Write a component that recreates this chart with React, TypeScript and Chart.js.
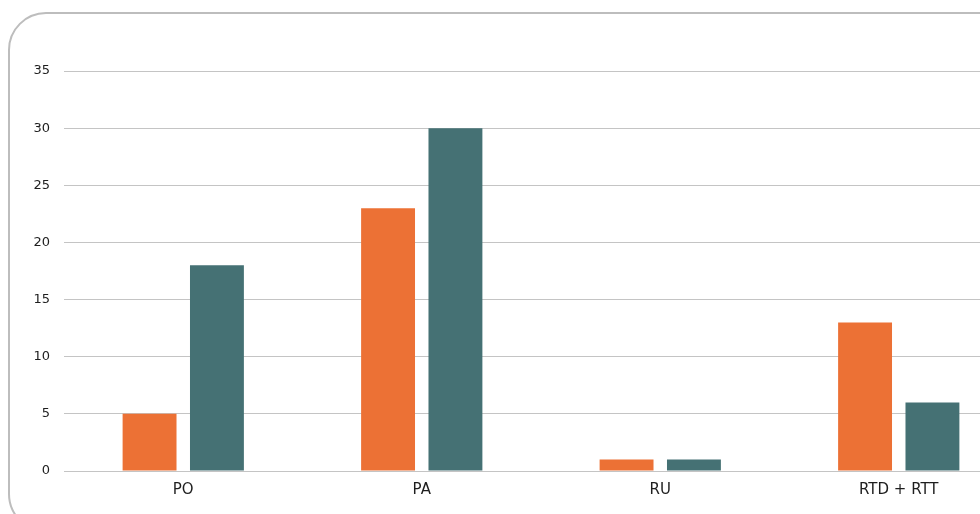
import React, { useEffect, useRef } from "react";
import { Chart, registerables } from "chart.js";

Chart.register(...registerables);

const categories = ["PO", "PA", "RU", "RTD + RTT"];
const seriesOrange = [5, 23, 1, 13];
const seriesTeal = [18, 30, 1, 6];
const yMax = 35;
const yStep = 5;

export default function App() {
  const ref = useRef<HTMLCanvasElement | null>(null);

  useEffect(() => {
    document.body.style.overflow = "hidden";
    const ctx = ref.current!.getContext("2d")!;
    const chart = new Chart(ctx, {
      type: "bar",
      data: {
        labels: categories,
        datasets: [
          {
            label: "A",
            data: seriesOrange,
            backgroundColor: "#EC7135",
            borderWidth: 0,
            barPercentage: 0.8,
            categoryPercentage: 0.565,
          },
          {
            label: "B",
            data: seriesTeal,
            backgroundColor: "#457174",
            borderWidth: 0,
            barPercentage: 0.8,
            categoryPercentage: 0.565,
          },
        ],
      },
      options: {
        animation: false,
        responsive: false,
        maintainAspectRatio: false,
        layout: { padding: { top: 57, right: 10, left: 0, bottom: 0 } },
        plugins: { legend: { display: false }, title: { display: false }, tooltip: { enabled: false } },
        scales: {
          x: {
            grid: { display: false, drawTicks: false },
            border: { display: true, color: "#c4c4c4", width: 1 },
            ticks: {
              color: "#1e1e1e",
              font: { family: "'DejaVu Sans', sans-serif", size: 15 },
              padding: 10,
            },
            afterFit: (scale: any) => {
              scale.height = 38;
            },
          },
          y: {
            min: 0,
            max: yMax,
            ticks: {
              stepSize: yStep,
              color: "#1e1e1e",
              font: { family: "'DejaVu Sans', sans-serif", size: 13 },
              padding: 14,
            },
            grid: { color: "#c4c4c4", drawTicks: false, lineWidth: 1 },
            border: { display: false },
            afterFit: (scale: any) => {
              scale.width = 54;
            },
          },
        },
      },
    });
    return () => chart.destroy();
  }, []);

  return (
    <div
      style={{
        position: "fixed",
        left: 0,
        top: 0,
        width: "100vw",
        height: "100vh",
        overflow: "hidden",
        background: "#fff",
      }}
    >
      <div
        style={{
          position: "absolute",
          left: 8,
          top: 12,
          width: 1100,
          height: 520,
          border: "2px solid #bdbdbd",
          borderRadius: 38,
          boxSizing: "border-box",
          background: "#fff",
        }}
      >
        <canvas
          ref={ref}
          width={1018}
          height={495}
          style={{ position: "absolute", left: 0, top: 0, width: 1018, height: 495 }}
        />
      </div>
    </div>
  );
}
